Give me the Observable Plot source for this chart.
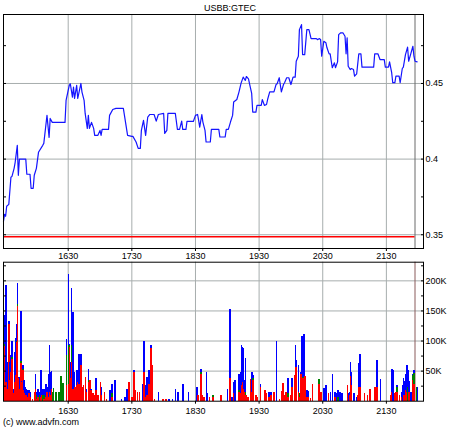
<!DOCTYPE html>
<html><head><meta charset="utf-8">
<script src="https://cdn.jsdelivr.net/npm/d3@7"></script>
<script src="https://cdn.jsdelivr.net/npm/@observablehq/plot@0.6"></script>
<style>
body{margin:0;background:#fff;font-family:"Liberation Sans",Arial,sans-serif;}
#wrap{position:relative;width:460px;height:430px;overflow:hidden;background:#fff;}
#top,#bot{position:absolute;left:0;}
#top{top:0;}
#bot{top:248px;}
#title{position:absolute;left:0;top:2px;width:460px;text-align:center;font-size:9px;line-height:12px;color:#000;}
#credit{position:absolute;left:3px;top:416px;font-size:9px;line-height:12px;color:#000;}
</style></head>
<body>
<div id="wrap"><div id="top"></div><div id="bot"></div><div id="title">USBB:GTEC</div><div id="credit">(c) www.advfn.com</div></div>
<script>
// ---- data (times as HHMM, prices, volumes in thousands) ----
const priceTime = [
1529,1530,1531,1532,1534,1536,1537,1539,1540,1542,
1543,1544,1550,1551,1554,1555,1557,1558,1600,1602,
1606,1607,1610,1612,1613,1615,1627,1628,1631,1632,
1634,1635,1636,1638,1639,1642,1643,1645,1646,1648,
1649,1650,1652,1654,1655,1658,1700,1701,1702,1708,
1709,1712,1715,1722,1726,1730,1731,1734,1736,1738,
1739,1741,1743,1745,1747,1751,1753,1755,1800,1801,
1803,1804,1811,1813,1815,1817,1818,1821,1822,1828,
1830,1832,1833,1834,1836,1837,1839,1840,1844,1845,
1852,1853,1858,1859,1901,1903,1905,1906,1909,1911,
1913,1915,1917,1918,1920,1921,1923,1924,1927,1928,
1932,1933,1935,1937,1938,1940,1944,1946,1947,1949,
1951,1953,1954,1956,1958,2000,2002,2004,2005,2007,
2008,2010,2011,2013,2015,2017,2019,2024,2025,2027,
2028,2029,2031,2033,2034,2036,2037,2039,2041,2042,
2044,2045,2047,2049,2051,2052,2053,2054,2056,2057,
2059,2100,2102,2104,2106,2107,2118,2119,2122,2124,
2128,2129,2132,2133,2135,2136,2138,2139,2142,2143,
2145,2146,2148,2150,2151,2153,2155,2156,2157,2159];
const priceValue = [
0.3589,0.3635,0.3622,0.3688,0.3701,0.3880,0.3886,0.3939,0.3979,0.4091,
0.3893,0.4000,0.4000,0.3900,0.3900,0.3807,0.3807,0.3893,0.3939,0.4045,
0.4091,0.4104,0.4289,0.4144,0.4269,0.4243,0.4243,0.4388,0.4487,0.4498,
0.4410,0.4476,0.4401,0.4487,0.4401,0.4500,0.4443,0.4388,0.4302,0.4203,
0.4289,0.4203,0.4243,0.4203,0.4157,0.4157,0.4190,0.4157,0.4196,0.4196,
0.4289,0.4328,0.4335,0.4335,0.4157,0.4150,0.4150,0.4113,0.4071,0.4071,
0.4190,0.4256,0.4157,0.4278,0.4295,0.4295,0.4251,0.4295,0.4302,0.4170,
0.4190,0.4302,0.4302,0.4196,0.4196,0.4251,0.4196,0.4196,0.4249,0.4249,
0.4289,0.4295,0.4256,0.4212,0.4295,0.4245,0.4190,0.4113,0.4113,0.4196,
0.4196,0.4146,0.4146,0.4196,0.4196,0.4245,0.4289,0.4377,0.4394,0.4443,
0.4502,0.4542,0.4520,0.4546,0.4531,0.4498,0.4434,0.4311,0.4311,0.4355,
0.4355,0.4394,0.4355,0.4361,0.4394,0.4445,0.4445,0.4493,0.4498,0.4538,
0.4445,0.4493,0.4505,0.4538,0.4538,0.4493,0.4542,0.4542,0.4647,0.4680,
0.4856,0.4889,0.4691,0.4691,0.4856,0.4856,0.4797,0.4797,0.4790,0.4797,
0.4790,0.4680,0.4779,0.4769,0.4736,0.4696,0.4696,0.4604,0.4637,0.4604,
0.4643,0.4823,0.4835,0.4835,0.4812,0.4696,0.4802,0.4614,0.4592,0.4599,
0.4592,0.4548,0.4564,0.4696,0.4696,0.4608,0.4608,0.4696,0.4696,0.4658,
0.4658,0.4608,0.4608,0.4643,0.4571,0.4505,0.4505,0.4548,0.4548,0.4505,
0.4599,0.4608,0.4691,0.4740,0.4647,0.4696,0.4746,0.4680,0.4647,0.4643];

const volTime = [
1530,1531,1532,1533,1534,1535,1536,1537,1538,1539,
1540,1541,1542,1543,1544,1545,1546,1547,1548,1549,
1550,1552,1553,1554,1556,1558,1559,1600,1601,1603,
1604,1605,1606,1607,1609,1610,1611,1612,1613,1614,
1615,1616,1618,1621,1623,1625,1628,1630,1631,1632,
1633,1634,1635,1636,1638,1639,1640,1641,1642,1643,
1644,1646,1647,1649,1650,1651,1653,1654,1656,1658,
1700,1701,1704,1706,1709,1711,1714,1720,1723,1725,
1727,1730,1732,1733,1735,1737,1740,1741,1743,1744,
1746,1748,1749,1751,1755,1759,1802,1805,1808,1811,
1813,1818,1823,1831,1832,1835,1836,1838,1840,1841,
1843,1846,1854,1900,1902,1904,1906,1907,1911,1912,
1913,1914,1915,1916,1917,1918,1919,1922,1923,1924,
1927,1928,1931,1935,1936,1939,1941,1944,1946,1949,
1951,1952,1953,1955,1957,2000,2001,2003,2004,2005,
2007,2008,2009,2010,2011,2012,2013,2015,2016,2018,
2020,2026,2028,2031,2033,2035,2037,2039,2041,2043,
2044,2046,2048,2053,2054,2055,2056,2057,2059,2102,
2103,2104,2105,2109,2112,2114,2119,2121,2124,2134,
2135,2136,2138,2139,2140,2142,2144,2145,2146,2147,
2148,2149,2150,2151,2153,2155,2156,2158,2159];
const volRed = [
91,31,31,20,128,34,48,70,12,31,
42,97,158,37,20,62,31,51,17,12,
9,6,12,6,3,14,20,3,6,0,
6,9,0,3,6,14,6,14,9,20,
0,0,0,0,0,0,26,28,89,37,
64,20,20,23,26,31,28,20,59,23,
26,39,14,31,34,17,12,9,17,9,
31,9,14,3,0,6,0,0,0,0,
31,6,48,17,14,14,0,48,6,9,
28,87,59,3,0,3,3,0,0,0,
0,0,0,0,9,45,9,6,0,0,
6,6,9,0,37,0,12,0,14,12,
26,31,20,14,9,9,6,36,14,34,
9,6,23,17,12,6,9,14,0,3,
16,30,9,14,6,9,23,42,56,56,
14,6,45,45,37,37,41,6,6,4,
28,28,14,0,0,12,0,0,6,0,
0,0,0,26,0,9,41,26,0,0,
9,23,23,12,9,20,23,22,0,9,
14,0,12,14,14,9,6,0,9,9,
17,14,0,14,0,34,28,0,0];
const volGreen = [
4,0,0,0,0,0,0,3,0,0,
0,2,2,0,0,4,0,2,0,0,
0,0,0,0,0,0,0,6,0,9,
0,0,9,6,0,0,0,0,0,0,
14,21,14,14,41,30,50,64,3,0,
28,0,0,0,0,0,0,0,0,0,
0,0,0,3,0,0,0,0,0,0,
0,0,0,0,0,6,0,0,0,0,
0,0,0,0,0,0,0,0,0,0,
0,0,0,0,0,0,0,0,0,0,
0,0,0,0,0,3,0,0,0,0,
0,3,0,0,0,0,0,0,3,0,
0,0,0,0,5,0,0,0,0,3,
0,0,0,0,0,0,0,0,0,0,
0,0,0,0,6,0,0,0,0,0,
0,6,0,0,2,3,0,0,0,0,
0,8,0,0,0,0,0,0,0,0,
6,0,0,0,0,0,0,0,0,0,
0,0,0,0,0,0,0,0,0,0,
0,0,0,0,9,0,0,0,0,0,
0,0,23,0,0,8,18,23,0];
const volBlue = [
47,161,28,44,4,30,28,27,8,50,
62,29,35,2,19,83,1,6,17,11,
11,11,5,8,0,0,25,5,14,5,
45,8,10,11,21,9,39,79,39,29,
0,0,0,0,0,0,27,118,3,27,
95,127,28,0,25,0,50,0,18,0,
0,0,6,19,0,3,0,0,20,0,
0,14,0,0,17,16,34,3,6,20,
0,0,3,0,0,0,28,52,20,30,
23,6,0,0,14,0,0,2,2,20,
14,28,14,23,0,5,0,0,48,12,
0,0,0,20,116,6,19,34,28,35,
66,58,67,20,57,0,0,0,34,5,
0,0,4,0,0,8,5,0,99,0,
0,0,0,0,25,0,14,0,37,11,
46,0,3,62,52,71,0,11,10,0,
0,0,0,21,26,0,14,44,9,12,
11,14,12,0,12,5,23,21,12,6,
0,40,54,0,0,0,0,45,36,0,
38,51,0,0,3,0,8,26,29,24,
28,46,28,18,14,2,5,0,23];

const hourTicks = [1630,1730,1830,1930,2030,2130];
const priceMajor = [0.35,0.4,0.45];
const priceMinor = [0.375,0.425,0.475];
const volMajor = [50000,100000,150000,200000];
const volMinor = [25000,75000,125000,175000,225000];
const timeRange = [1529,2205];
const priceRange = [0.3409,0.4956];
const volRange = [0,231000];
const refPrice = 0.3487;   // reference (previous close) line
const nowTime = 2157;      // session marker line

// ---- helpers ----
const toMin = v => Math.floor(v/100)*60 + (v%100);
const fmtT = m => String(Math.floor(m/60)*100 + (m%60));
const fmtK = v => (v/1000) + "K";
const xDomain = timeRange.map(toMin);
const hours = hourTicks.map(toMin);
const nowM = toMin(nowTime);

const priceRows = priceTime.map((t,i) => ({t: toMin(t), p: priceValue[i]}));
const volRows = [];
volTime.forEach((t,i) => {
  let base = 0;
  [["red", volRed[i]], ["green", volGreen[i]], ["blue", volBlue[i]]].forEach(([c,v]) => {
    if (v > 0) { volRows.push({t: toMin(t), y1: base*1000, y2: (base+v)*1000, c}); base += v; }
  });
});

const gridColor = "#a7adad";
const style = {fontFamily: "'Liberation Sans', Arial, sans-serif", fontSize: "9px", color: "#000", background: "transparent", overflow: "visible"};

const topChart = Plot.plot({
  width: 460, height: 262,
  marginTop: 14, marginBottom: 14, marginLeft: 3, marginRight: 37,
  style,
  x: {domain: xDomain, label: null},
  y: {domain: priceRange, label: null},
  marks: [
    Plot.gridX(hours, {stroke: gridColor, strokeOpacity: 1}),
    Plot.gridY(priceMajor, {stroke: gridColor, strokeOpacity: 1}),
    Plot.ruleX([nowM], {stroke: "#6a6a6a"}),
    Plot.ruleY([refPrice], {x1: xDomain[0], x2: nowM, stroke: "#ff0000", strokeWidth: 1.5}),
    Plot.line(priceRows, {x: "t", y: "p", stroke: "#1414ff", strokeWidth: 1.2}),
    Plot.axisX(hours, {anchor: "bottom", tickSize: 3, tickPadding: 1, tickFormat: fmtT, label: null}),
    Plot.axisY(priceMajor, {anchor: "right", tickSize: -3, tickPadding: 5, tickFormat: d => String(d), label: null}),
    Plot.axisY(priceMinor, {anchor: "right", tickSize: -3, tickFormat: () => "", label: null}),
    Plot.axisY(priceMajor.concat(priceMinor), {anchor: "left", tickSize: -3, tickFormat: () => "", label: null}),
    Plot.frame({stroke: "#000"})
  ]
});
document.getElementById("top").append(topChart);

const botChart = Plot.plot({
  width: 460, height: 182,
  marginTop: 13.7, marginBottom: 29.3, marginLeft: 3, marginRight: 37,
  style,
  x: {domain: xDomain, label: null},
  y: {domain: volRange, label: null},
  color: {domain: ["red","green","blue"], range: ["#ff0000","#00c800","#0000ff"]},
  marks: [
    Plot.gridX(hours, {stroke: gridColor, strokeOpacity: 1}),
    Plot.gridY(volMajor, {stroke: gridColor, strokeOpacity: 1}),
    Plot.ruleX([nowM], {stroke: "#8a5a5a"}),
    Plot.rect(volRows, {x1: "t", x2: d => d.t + 1.5, y1: "y1", y2: "y2", fill: "c", shapeRendering: "crispEdges"}),
    Plot.axisX(hours, {anchor: "bottom", tickSize: 3, tickPadding: 3, tickFormat: fmtT, label: null}),
    Plot.axisY(volMajor, {anchor: "right", tickSize: -3, tickPadding: 5, tickFormat: fmtK, label: null}),
    Plot.axisY(volMinor, {anchor: "right", tickSize: -3, tickFormat: () => "", label: null}),
    Plot.axisY(volMajor.concat(volMinor), {anchor: "left", tickSize: -3, tickFormat: () => "", label: null}),
    Plot.frame({stroke: "#000"})
  ]
});
document.getElementById("bot").append(botChart);
</script>
</body></html>
